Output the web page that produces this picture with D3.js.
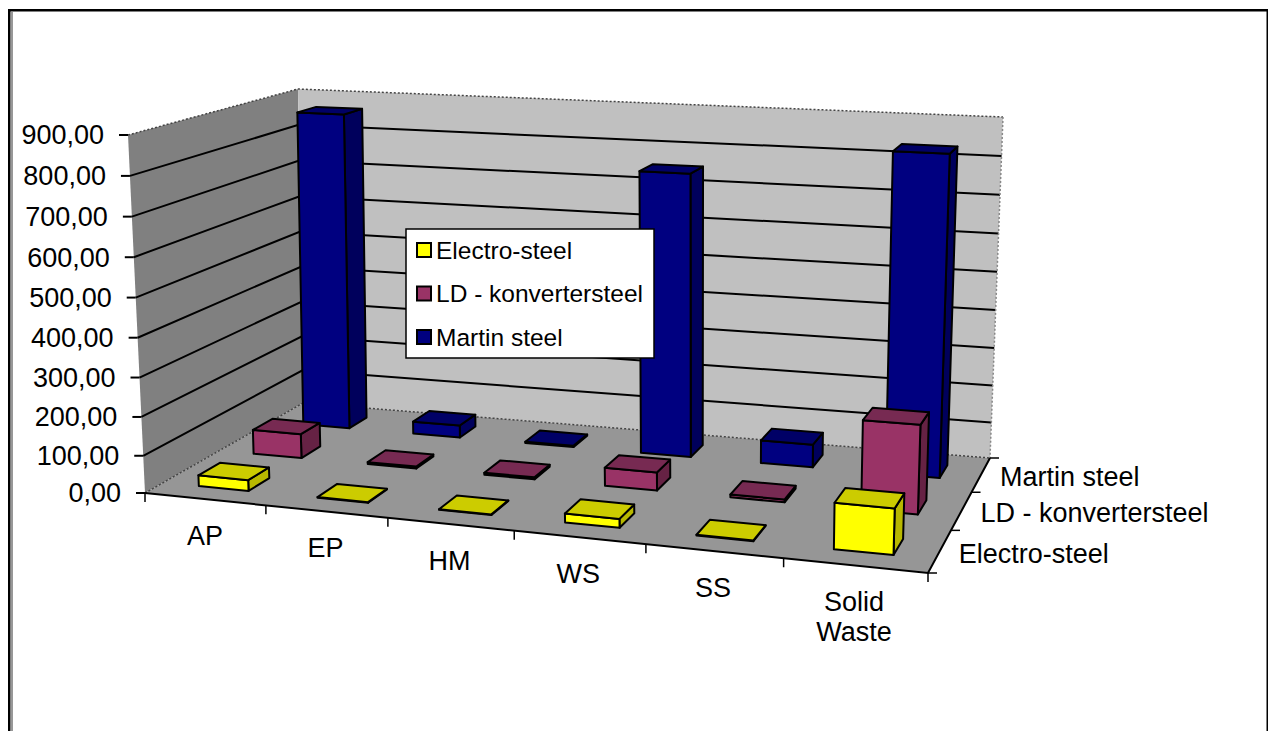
<!DOCTYPE html>
<html>
<head>
<meta charset="utf-8">
<script src="https://cdn.jsdelivr.net/npm/d3@7/dist/d3.min.js"></script>
<style>
  html, body { margin: 0; padding: 0; background: #fff; overflow: hidden; }
  svg { display: block; }
  text { font-family: "Liberation Sans", Arial, sans-serif; fill: #000; }
</style>
</head>
<body>
<svg id="chart" width="1268" height="731"></svg>
<script>
// Emissions per impact category and steel-making route
const categories = ["AP", "EP", "HM", "WS", "SS", "Solid Waste"];
const seriesNames = ["Electro-steel", "LD - konvertersteel", "Martin steel"];
const electroSteel = [30, 2, 2, 24, 2, 116];
const ldSteel = [68, 6, 6, 50, 8, 229];
const martinSteel = [866, 36, 4, 753, 64, 835];
const seriesValues = [electroSteel, ldSteel, martinSteel];
const valueTicks = d3.range(0, 901, 100);
const seriesColors = ["#ffff00", "#993366", "#000080"];
const seriesTops = ["#cccc00", "#772a52", "#000066"];
const seriesSides = ["#b8b800", "#662244", "#00005c"];

const svg = d3.select("#chart");
const comma = d3.formatLocale({ decimal: ",", thousands: ".", grouping: [3], currency: ["", ""] }).format(".2f");

// Corners of the chart box on screen: front-left, front-right, back-right, back-left
const floorQuad = [[145, 493], [928, 573], [990, 458], [303, 403]];
const ceilingQuad = [[128, 135], [941, 180], [1003, 117], [298, 89]];

// Projective map from the unit square onto a quadrilateral
function squareToQuad(q) {
  const [[x0, y0], [x1, y1], [x2, y2], [x3, y3]] = q;
  const dx1 = x1 - x2, dx2 = x3 - x2, sx = x0 - x1 + x2 - x3;
  const dy1 = y1 - y2, dy2 = y3 - y2, sy = y0 - y1 + y2 - y3;
  const den = dx1 * dy2 - dx2 * dy1;
  const g = (sx * dy2 - dx2 * sy) / den;
  const h = (dx1 * sy - sx * dy1) / den;
  const a = x1 - x0 + g * x1, b = x3 - x0 + h * x3;
  const d = y1 - y0 + g * y1, e = y3 - y0 + h * y3;
  return (u, v) => {
    const w = g * u + h * v + 1;
    return [(a * u + b * v + x0) / w, (d * u + e * v + y0) / w];
  };
}
const floorMap = squareToQuad(floorQuad);
const ceilingMap = squareToQuad(ceilingQuad);

// Scales along the three box axes; the ceiling plane is foreshortened a little differently
const xBox = d3.scalePow().exponent(0.97).domain([0, categories.length]).range([0, 1]);
const xBoxCeiling = d3.scalePow().exponent(0.955).domain([0, categories.length]).range([0, 1]);
const zBox = d3.scaleLinear().domain([0, seriesNames.length]).range([0, 1]);
const yBox = d3.scalePow().exponent(1.03).domain([0, 900]).range([0, 1]);
const xBand = d3.scaleBand().domain(d3.range(categories.length)).range([0, categories.length]).paddingInner(0.58).paddingOuter(0.29);
const zBand = d3.scaleBand().domain(d3.range(seriesNames.length)).range([0, seriesNames.length]).paddingInner(0.62).paddingOuter(0.31);

function project(x, z, value) {
  const f = floorMap(xBox(x), zBox(z));
  const c = ceilingMap(xBoxCeiling(x), zBox(z));
  return d3.interpolateArray(f, c)(yBox(value));
}
const poly = pts => "M" + pts.map(p => p.join(",")).join("L") + "Z";
const lineOf = pts => "M" + pts.map(p => p.join(",")).join("L");

const nx = categories.length, nz = seriesNames.length, maxValue = 900;

// Page frame
const border = svg.append("g");
border.append("rect").attr("x", 8).attr("y", 9).attr("width", 2.5).attr("height", 722).attr("fill", "#000");
border.append("rect").attr("x", 8).attr("y", 9).attr("width", 1260).attr("height", 2.5).attr("fill", "#000");
border.append("rect").attr("x", 11.5).attr("y", 12).attr("width", 1).attr("height", 719).attr("fill", "#333");
border.append("rect").attr("x", 1266.5).attr("y", 9).attr("width", 1.5).attr("height", 722).attr("fill", "#000");

// Walls and floor
const box = svg.append("g");
box.append("path").attr("d", poly([project(0, 0, 0), project(0, nz, 0), project(0, nz, maxValue), project(0, 0, maxValue)])).attr("fill", "#808080");
box.append("path").attr("d", poly([project(0, nz, 0), project(nx, nz, 0), project(nx, nz, maxValue), project(0, nz, maxValue)])).attr("fill", "#c0c0c0");
box.append("path").attr("d", poly([project(0, 0, 0), project(nx, 0, 0), project(nx, nz, 0), project(0, nz, 0)])).attr("fill", "#969696");

// Gridlines running along both walls
const grid = svg.append("g").attr("fill", "none").attr("stroke", "#000").attr("stroke-width", 2);
valueTicks.filter(v => v > 0 && v < maxValue).forEach(v => {
  grid.append("path").attr("d", lineOf([project(0, 0, v), project(0, nz, v), project(nx, nz, v)]));
});

// Dotted outline of the walls and rear floor edges
const edge = svg.append("g").attr("fill", "none").attr("stroke", "#444").attr("stroke-width", 1.5).attr("stroke-dasharray", "2 2");
edge.append("path").attr("d", lineOf([project(0, 0, maxValue), project(0, nz, maxValue), project(nx, nz, maxValue)]));
edge.append("path").attr("d", lineOf([project(0, 0, 0), project(0, nz, 0), project(nx, nz, 0)]));
edge.append("path").attr("d", lineOf([project(nx, nz, maxValue), project(nx, nz, 0)])).attr("stroke", "#888").attr("stroke-dasharray", null);

// Bars, painted from the back row forward
const bars = svg.append("g").attr("stroke", "#000").attr("stroke-width", 2).attr("stroke-linejoin", "round");
d3.range(nz - 1, -1, -1).forEach(s => {
  const z0 = zBand(s), z1 = z0 + zBand.bandwidth();
  seriesValues[s].forEach((value, i) => {
    const x0 = xBand(i), x1 = x0 + xBand.bandwidth();
    const g = bars.append("g");
    g.append("path").attr("fill", seriesSides[s])
      .attr("d", poly([project(x1, z0, 0), project(x1, z1, 0), project(x1, z1, value), project(x1, z0, value)]));
    g.append("path").attr("fill", seriesColors[s])
      .attr("d", poly([project(x0, z0, 0), project(x1, z0, 0), project(x1, z0, value), project(x0, z0, value)]));
    g.append("path").attr("fill", seriesTops[s])
      .attr("d", poly([project(x0, z0, value), project(x1, z0, value), project(x1, z1, value), project(x0, z1, value)]));
  });
});

// Axis lines and tick marks
const axes = svg.append("g").attr("fill", "none").attr("stroke", "#000").attr("stroke-width", 2);
axes.append("path").attr("d", lineOf([project(0, 0, 0), project(nx, 0, 0), project(nx, nz, 0)]));
valueTicks.forEach(v => {
  const p = project(0, 0, v);
  axes.append("path").attr("d", lineOf([[p[0] - 9, p[1]], p]));
});
d3.range(nx + 1).forEach(i => {
  const p = project(i, 0, 0);
  axes.append("path").attr("d", lineOf([p, [p[0], p[1] + 9]])).attr("stroke-width", 1.5);
});
d3.range(nz + 1).forEach(i => {
  const p = project(nx, i, 0);
  axes.append("path").attr("d", lineOf([p, [p[0] + 9, p[1]]])).attr("stroke-width", 1.5);
});

// Axis labels
const labels = svg.append("g").attr("font-size", 27);
valueTicks.forEach(v => {
  const p = project(0, 0, v);
  labels.append("text").attr("x", p[0] - 24).attr("y", p[1]).attr("dy", "0.35em")
    .attr("text-anchor", "end").text(comma(v));
});
categories.forEach((c, i) => {
  const p = project(i + 0.5, 0, 0);
  const words = c.split(" ");
  words.forEach((w, k) => {
    labels.append("text").attr("x", p[0] - 1).attr("y", p[1] + 36 + k * 30).attr("dy", "0.35em")
      .attr("text-anchor", "middle").text(w);
  });
});
seriesNames.forEach((n, i) => {
  const p = project(nx, i + 0.5, 0);
  labels.append("text").attr("x", p[0] + 19).attr("y", p[1] + 2).attr("dy", "0.35em").text(n);
});

// Legend box
const legend = svg.append("g").attr("transform", "translate(406,229)");
legend.append("rect").attr("width", 248).attr("height", 129).attr("fill", "#fff").attr("stroke", "#000").attr("stroke-width", 1.5);
const legendY = d3.scalePoint().domain(seriesNames).range([21, 108]);
seriesNames.forEach((n, i) => {
  const y = legendY(n);
  legend.append("rect").attr("x", 11).attr("y", y - 7).attr("width", 14).attr("height", 14)
    .attr("fill", seriesColors[i]).attr("stroke", "#000").attr("stroke-width", 2);
  legend.append("text").attr("x", 30).attr("y", y).attr("dy", "0.35em").attr("font-size", 24.5).text(n);
});
</script>
</body>
</html>
